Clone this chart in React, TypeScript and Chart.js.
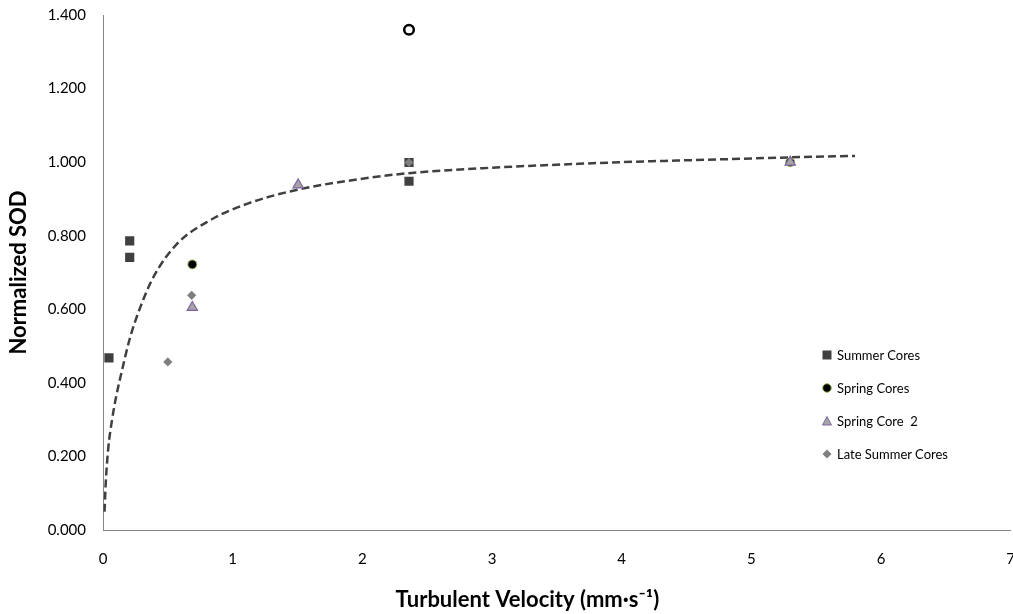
import React, { useEffect, useRef } from 'react';
import { Chart, registerables } from 'chart.js';

Chart.register(...registerables);

// ---- Data ----
const summerX = [0.046, 0.206, 0.206, 2.36, 2.36];
const summerY = [0.468, 0.786, 0.741, 0.999, 0.948];

const springX = [0.689, 5.3];
const springY = [0.722, 1.0];

const springOutlierX = [2.36];
const springOutlierY = [1.36];

const spring2X = [0.689, 1.505, 5.3];
const spring2Y = [0.605, 0.938, 1.0];

const lateX = [0.5, 0.684, 2.36];
const lateY = [0.457, 0.638, 0.999];

const trendX = [0.012, 0.02, 0.04, 0.07, 0.1, 0.144, 0.208, 0.285, 0.388, 0.569, 0.826, 1.121, 1.5, 2.0, 2.36, 3.0, 3.5, 4.0, 4.5, 5.0, 5.3, 5.8];
const trendY = [0.05, 0.12, 0.22, 0.3, 0.36, 0.43, 0.522, 0.603, 0.687, 0.777, 0.842, 0.888, 0.925, 0.955, 0.97, 0.985, 0.993, 1.0, 1.005, 1.01, 1.013, 1.017];

const xTickLabels = ['0', '1', '2', '3', '4', '5', '6', '7'];
const yTickLabels = ['0.000', '0.200', '0.400', '0.600', '0.800', '1.000', '1.200', '1.400'];

const legendNames = ['Summer Cores', 'Spring Cores', 'Spring Core  2', 'Late Summer Cores'];

const FONT = 'Lato, "Liberation Sans", sans-serif';

function pts(xs: number[], ys: number[]) {
  return xs.map((x, i) => ({ x, y: ys[i] }));
}

function Marker({ kind }: { kind: number }) {
  const s = 12;
  if (kind === 0) {
    return (
      <svg width={s} height={s}>
        <rect x={1.5} y={1.5} width={9} height={9} fill="#404040" />
      </svg>
    );
  }
  if (kind === 1) {
    return (
      <svg width={s} height={s}>
        <circle cx={6} cy={6} r={4.3} fill="#000" stroke="#9BBB59" strokeWidth={1} />
      </svg>
    );
  }
  if (kind === 2) {
    return (
      <svg width={s} height={s}>
        <polygon points="6,1.5 10.5,10 1.5,10" fill="#A5A5A5" stroke="#8064A2" strokeWidth={1} />
      </svg>
    );
  }
  return (
    <svg width={s} height={s}>
      <polygon points="6,1.5 10.5,6 6,10.5 1.5,6" fill="#7F7F7F" />
    </svg>
  );
}

const CANVAS_W = 1035;
const CANVAS_H = 625;
const CANVAS_SHIFT_Y = -11;

export default function App() {
  const ref = useRef<HTMLCanvasElement>(null);

  useEffect(() => {
    const canvas = ref.current;
    if (!canvas) return;
    Chart.defaults.font.family = FONT;
    const chart = new Chart(canvas, {
      type: 'scatter',
      data: {
        datasets: [
          {
            label: 'Trend',
            type: 'line',
            data: pts(trendX, trendY),
            showLine: true,
            borderColor: '#404040',
            borderWidth: 2.5,
            borderDash: [8, 4],
            pointRadius: 0,
            cubicInterpolationMode: 'monotone',
            fill: false,
            order: 6,
          } as any,
          {
            label: legendNames[0],
            data: pts(summerX, summerY),
            pointStyle: 'rect',
            pointRadius: 6.5,
            backgroundColor: '#404040',
            borderColor: '#404040',
            borderWidth: 0,
            order: 5,
          },
          {
            label: legendNames[1],
            data: pts(springX, springY),
            pointStyle: 'circle',
            pointRadius: 4.5,
            backgroundColor: '#000000',
            borderColor: '#9BBB59',
            borderWidth: 1,
            order: 4,
          },
          {
            label: 'Spring Cores (outlier)',
            data: pts(springOutlierX, springOutlierY),
            pointStyle: 'circle',
            pointRadius: 4.8,
            backgroundColor: '#FFFFFF',
            borderColor: '#000000',
            borderWidth: 2.5,
            order: 4,
          },
          {
            label: legendNames[2],
            data: pts(spring2X, spring2Y),
            pointStyle: 'triangle',
            pointRadius: 6,
            backgroundColor: '#A5A5A5',
            borderColor: '#8064A2',
            borderWidth: 1.2,
            order: 3,
          },
          {
            label: legendNames[3],
            data: pts(lateX, lateY),
            pointStyle: 'rectRot',
            pointRadius: 4.6,
            backgroundColor: '#7F7F7F',
            borderColor: '#7F7F7F',
            borderWidth: 0,
            order: 2,
          },
        ],
      },
      options: {
        responsive: false,
        animation: false,
        layout: { padding: { top: 4, left: 0, right: 0, bottom: 0 } },
        plugins: {
          legend: { display: false },
          tooltip: { enabled: false },
        },
        scales: {
          x: {
            type: 'linear',
            min: 0,
            max: 7,
            afterFit: (s: any) => {
              s.height = 84;
            },
            ticks: {
              stepSize: 1,
              padding: 20,
              color: '#000',
              maxRotation: 0,
              font: { family: FONT, size: 15 },
              callback: (_v: any, i: number) => xTickLabels[i],
            },
            grid: { display: true, drawOnChartArea: false, drawTicks: false },
            border: { color: '#868686', width: 1 },
            title: {
              display: true,
              text: 'Turbulent Velocity (mm·s⁻¹)' + '\u00A0'.repeat(11),
              color: '#000',
              font: { family: FONT, size: 22, weight: 'bold' },
              padding: { top: 0, bottom: 1 },
            },
          },
          y: {
            type: 'linear',
            min: 0,
            max: 1.4,
            afterFit: (s: any) => {
              s.width = 103;
            },
            ticks: {
              stepSize: 0.2,
              padding: 17,
              color: '#000',
              font: { family: FONT, size: 15 },
              callback: (_v: any, i: number) => yTickLabels[i],
            },
            grid: { display: true, drawOnChartArea: false, drawTicks: false },
            border: { color: '#868686', width: 1 },
            title: {
              display: true,
              text: 'Normalized SOD',
              color: '#000',
              font: { family: FONT, size: 22, weight: 'bold' },
              padding: { top: 6, bottom: 0 },
            },
          },
        },
      } as any,
    });
    return () => chart.destroy();
  }, []);

  const rowTops = [355, 388, 421, 454];

  return (
    <div
      style={{
        position: 'fixed',
        left: 0,
        top: 0,
        width: 1013,
        height: 614,
        overflow: 'hidden',
        background: '#fff',
      }}
    >
      <canvas
        ref={ref}
        width={CANVAS_W}
        height={CANVAS_H}
        style={{
          position: 'absolute',
          left: 0,
          top: CANVAS_SHIFT_Y,
          width: CANVAS_W,
          height: CANVAS_H,
          display: 'block',
        }}
      />
      {legendNames.map((name, i) => (
        <div
          key={name}
          style={{
            position: 'absolute',
            left: 821,
            top: rowTops[i] - 9,
            height: 18,
            display: 'flex',
            alignItems: 'center',
            fontFamily: FONT,
            fontSize: 13,
            color: '#000',
            whiteSpace: 'pre',
          }}
        >
          <Marker kind={i} />
          <span style={{ marginLeft: 4 }}>{name}</span>
        </div>
      ))}
    </div>
  );
}
